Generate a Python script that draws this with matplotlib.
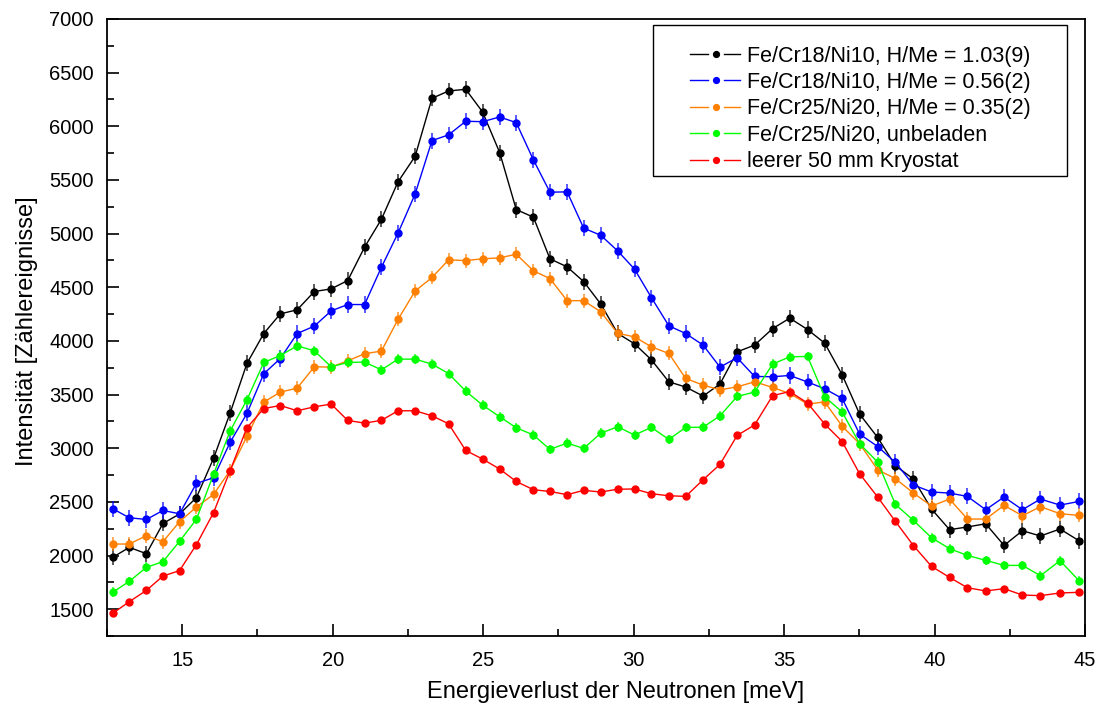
import matplotlib
matplotlib.use('Agg')
import matplotlib.pyplot as plt
from matplotlib.lines import Line2D
from matplotlib.legend_handler import HandlerBase
from matplotlib.patches import Rectangle
from matplotlib.ticker import MultipleLocator

plt.rcParams['font.family'] = ['Liberation Sans', 'DejaVu Sans']

energy = [12.69, 13.24, 13.81, 14.36, 14.91, 15.47, 16.04, 16.59, 17.15, 17.71,
          18.26, 18.82, 19.39, 19.95, 20.50, 21.06, 21.62, 22.17, 22.74, 23.30,
          23.85, 24.42, 24.98, 25.55, 26.10, 26.67, 27.22, 27.79, 28.34, 28.91,
          29.47, 30.03, 30.59, 31.17, 31.73, 32.31, 32.87, 33.44, 34.02, 34.62,
          35.19, 35.78, 36.35, 36.93, 37.51, 38.11, 38.70, 39.30, 39.90, 40.50,
          41.09, 41.70, 42.31, 42.92, 43.52, 44.17, 44.80]

hme_103 = [1983, 2076, 2017, 2299, 2387, 2539, 2905, 3327, 3790, 4069,
           4252, 4290, 4460, 4485, 4563, 4874, 5134, 5482, 5721, 6261,
           6329, 6345, 6134, 5755, 5224, 5153, 4765, 4690, 4553, 4343,
           4070, 3973, 3824, 3619, 3570, 3486, 3598, 3898, 3961, 4115,
           4212, 4106, 3979, 3684, 3318, 3100, 2837, 2713, 2433, 2241,
           2266, 2296, 2094, 2231, 2182, 2247, 2138]

hme_056 = [2436, 2352, 2336, 2420, 2389, 2672, 2725, 3054, 3324, 3694,
           3836, 4069, 4138, 4280, 4339, 4339, 4687, 5004, 5370, 5867,
           5920, 6047, 6043, 6087, 6034, 5687, 5386, 5389, 5051, 4984,
           4839, 4669, 4404, 4141, 4069, 3961, 3756, 3843, 3669, 3666,
           3678, 3617, 3554, 3464, 3132, 3016, 2867, 2657, 2592, 2582,
           2551, 2427, 2545, 2427, 2526, 2470, 2504]

hme_035 = [2107, 2107, 2185, 2129, 2315, 2452, 2569, 2792, 3110, 3430,
           3523, 3560, 3759, 3756, 3815, 3880, 3906, 4200, 4465, 4591,
           4755, 4749, 4765, 4774, 4808, 4653, 4581, 4375, 4375, 4271,
           4070, 4038, 3945, 3883, 3650, 3588, 3544, 3572, 3619, 3566,
           3510, 3411, 3432, 3205, 3042, 2799, 2716, 2582, 2461, 2526,
           2340, 2340, 2467, 2371, 2455, 2390, 2374]

unbeladen = [1657, 1759, 1890, 1943, 2132, 2337, 2756, 3160, 3451, 3799,
             3864, 3954, 3908, 3759, 3799, 3803, 3730, 3830, 3830, 3784,
             3696, 3532, 3402, 3293, 3191, 3123, 2989, 3048, 2998, 3140,
             3200, 3123, 3194, 3082, 3194, 3196, 3302, 3482, 3524, 3784,
             3852, 3855, 3479, 3338, 3042, 2871, 2476, 2327, 2166, 2064,
             2001, 1955, 1908, 1908, 1812, 1952, 1766]

kryostat = [1461, 1570, 1675, 1809, 1859, 2101, 2399, 2790, 3191, 3370,
            3398, 3349, 3386, 3411, 3259, 3234, 3260, 3349, 3349, 3302,
            3228, 2979, 2899, 2806, 2690, 2613, 2597, 2567, 2607, 2592,
            2618, 2620, 2576, 2557, 2551, 2706, 2849, 3119, 3217, 3490,
            3528, 3421, 3225, 3062, 2762, 2545, 2318, 2092, 1899, 1796,
            1700, 1670, 1691, 1632, 1626, 1651, 1657]

labels = ['Fe/Cr18/Ni10, H/Me = 1.03(9)',
          'Fe/Cr18/Ni10, H/Me = 0.56(2)',
          'Fe/Cr25/Ni20, H/Me = 0.35(2)',
          'Fe/Cr25/Ni20, unbeladen',
          'leerer 50 mm Kryostat']
errors = [75, 75, 65, 45, 28]
colors = ['#000000', '#0000ff', '#ff8000', '#00ff00', '#ff0000']
data = [hme_103, hme_056, hme_035, unbeladen, kryostat]

x_ticks = [15, 20, 25, 30, 35, 40, 45]


class DotHandler(HandlerBase):
    def create_artists(self, legend, orig_handle, xdescent, ydescent,
                       width, height, fontsize, trans):
        c = orig_handle.get_color()
        y = height / 2 - ydescent
        x0 = -xdescent
        a = Line2D([x0, x0 + 0.367 * width], [y, y], color=c, lw=1.0)
        b = Line2D([x0 + 0.687 * width, x0 + width], [y, y], color=c, lw=1.0)
        m = Line2D([x0 + 0.52 * width], [y], marker='o', color=c,
                   markersize=4.2, linestyle='none')
        for art in (a, b, m):
            art.set_transform(trans)
        return [a, b, m]


fig = plt.figure(figsize=(11, 7.04), dpi=100)
ax = fig.add_axes([107 / 1100, 68 / 704, 978 / 1100, 617 / 704])

handles = []
for y, c, lab, e in zip(data, colors, labels, errors):
    cont = ax.errorbar(energy, y, yerr=e, color=c, ecolor=c, elinewidth=1.4,
                       capsize=0, marker='o', markersize=5, linewidth=1.0)
    for lc in cont[2]:
        lc.set_alpha(0.65)
    handles.append(Line2D([], [], color=c))

ax.set_xlim(12.5, 45)
ax.set_xticks(x_ticks)
ax.xaxis.set_minor_locator(MultipleLocator(2.5))
ax.yaxis.set_major_locator(MultipleLocator(500))
ax.yaxis.set_minor_locator(MultipleLocator(250))
ax.set_ylim(1250, 7000)
ax.tick_params(which='both', direction='in', top=False, right=False,
               width=1.2, labelsize=14.5)
ax.tick_params(which='major', length=8.5)
ax.tick_params(which='minor', length=5)
ax.tick_params(axis='x', pad=10.5)
ax.tick_params(axis='y', pad=9.5)
for s in ax.spines.values():
    s.set_linewidth(1.3)

ax.set_xlabel('Energieverlust der Neutronen [meV]', fontsize=17, labelpad=8)
ax.xaxis.set_label_coords(0.52, -0.073)
ax.set_ylabel('Intensität [Zählereignisse]', fontsize=17, labelpad=8)
ax.yaxis.label.set_y(0.494)

ax.add_patch(Rectangle((0.558, 0.746), 0.4233, 0.2443, transform=ax.transAxes,
                       facecolor='white', edgecolor='black', lw=1.0, zorder=4))
ax.legend(handles, labels, handler_map={Line2D: DotHandler()},
          loc='upper left', bbox_to_anchor=(0.5961, 0.957), borderpad=0,
          borderaxespad=0, frameon=False, handlelength=2.33,
          handletextpad=0.33, labelspacing=0.25, fontsize=15.5)

fig.savefig('out.png', dpi=100)
